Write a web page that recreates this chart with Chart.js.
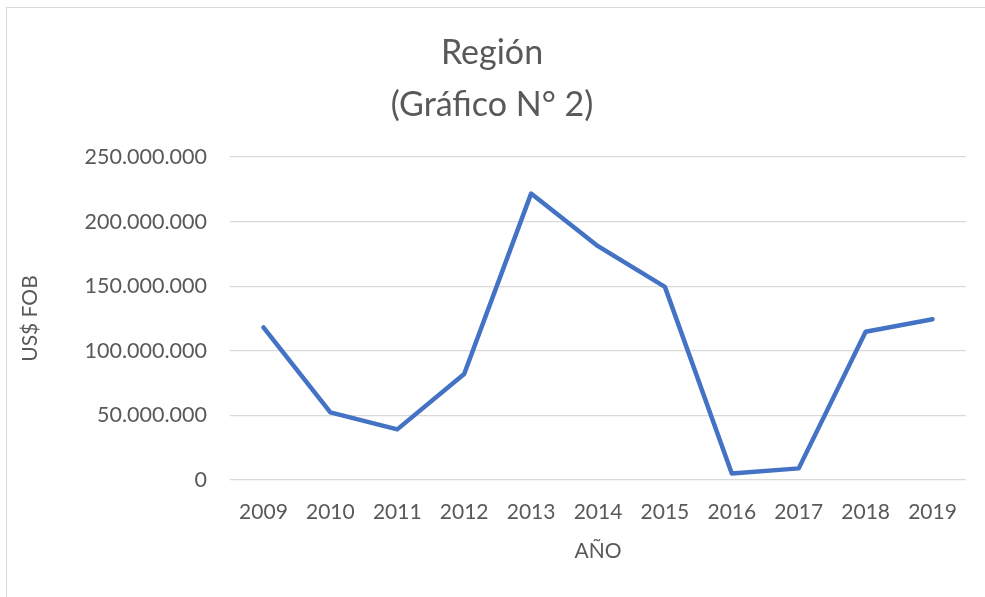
<!DOCTYPE html>
<html>
<head>
<meta charset="utf-8">
<script src="https://cdn.jsdelivr.net/npm/chart.js@4.4.1/dist/chart.umd.min.js"></script>
<style>
html, body { margin: 0; padding: 0; background: #fff; overflow: hidden; }
#frame { position: absolute; left: 6px; top: 7px; width: 1200px; height: 800px; border: 1px solid #d9d9d9; }
#wrap { position: absolute; left: 0; top: 0; width: 985px; height: 597px; }
</style>
</head>
<body>
<div id="frame"></div>
<div id="wrap"><canvas id="chart"></canvas></div>
<script>
// años y valores en US$ FOB
const years = ['2009', '2010', '2011', '2012', '2013', '2014', '2015', '2016', '2017', '2018', '2019'];
const fobValues = [118100000, 52300000, 39200000, 82000000, 221700000, 181000000, 149500000, 5000000, 9000000, 114700000, 124500000];
const yTicks = [0, 50000000, 100000000, 150000000, 200000000, 250000000];

const grey = '#595959';
const fontFamily = 'Lato, "Open Sans", sans-serif';

function formatDots(v) {
  return String(v).replace(/\B(?=(\d{3})+(?!\d))/g, '.');
}

const ctx = document.getElementById('chart').getContext('2d');
new Chart(ctx, {
  type: 'line',
  data: {
    labels: years,
    datasets: [{
      label: 'US$ FOB',
      data: fobValues,
      borderColor: '#4472C4',
      backgroundColor: '#4472C4',
      borderWidth: 4.5,
      pointRadius: 0,
      tension: 0,
      borderCapStyle: 'round',
      borderJoinStyle: 'round'
    }]
  },
  options: {
    responsive: true,
    maintainAspectRatio: false,
    animation: false,
    layout: {
      padding: { left: 18, right: 19, top: 0, bottom: 33 }
    },
    plugins: {
      legend: { display: false },
      tooltip: { enabled: false },
      title: {
        display: true,
        text: ['Región', '(Gráfico N° 2)'],
        color: grey,
        font: { family: fontFamily, size: 34, weight: 'normal', lineHeight: 1.53 },
        padding: { top: 27, bottom: 26 }
      }
    },
    scales: {
      x: {
        offset: true,
        grid: { display: false },
        border: { display: false },
        ticks: {
          color: grey,
          font: { family: fontFamily, size: 21 },
          padding: 12,
          maxRotation: 0
        },
        title: {
          display: true,
          text: 'AÑO',
          color: grey,
          font: { family: fontFamily, size: 21 },
          padding: 0
        },
        afterFit: function (scale) { scale.height = 84; }
      },
      y: {
        min: 0,
        max: 250000000,
        afterBuildTicks: function (scale) {
          scale.ticks = yTicks.map(v => ({ value: v }));
        },
        grid: { color: '#d9d9d9', lineWidth: 1.3, drawTicks: false },
        border: { display: false },
        ticks: {
          color: grey,
          font: { family: fontFamily, size: 21.5 },
          padding: 23,
          callback: function (v) { return formatDots(v); }
        },
        title: {
          display: true,
          text: 'US$ FOB',
          color: grey,
          font: { family: fontFamily, size: 21 },
          padding: 0
        },
        afterFit: function (scale) { scale.width = 212; }
      }
    }
  }
});
</script>
</body>
</html>
